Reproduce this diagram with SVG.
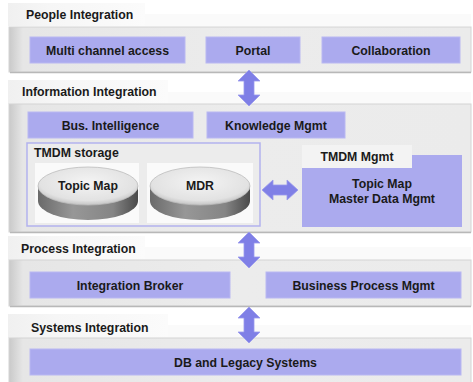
<svg xmlns="http://www.w3.org/2000/svg" width="473" height="382" viewBox="0 0 473 382">
  <defs>
    <linearGradient id="panelGrad" x1="0" y1="0" x2="1" y2="0">
      <stop offset="0" stop-color="#c9c9c9"/>
      <stop offset="0.03" stop-color="#e6e6e6"/>
      <stop offset="0.5" stop-color="#ececec"/>
      <stop offset="1" stop-color="#ebebeb"/>
    </linearGradient>
    <linearGradient id="tabGrad" x1="0" y1="0" x2="1" y2="0">
      <stop offset="0" stop-color="#f0f0f0"/>
      <stop offset="0.3" stop-color="#f6f6f6"/>
      <stop offset="1" stop-color="#fbfbfb"/>
    </linearGradient>
    <linearGradient id="cylSide" x1="0" y1="0" x2="1" y2="0">
      <stop offset="0" stop-color="#6a6a6a"/>
      <stop offset="0.35" stop-color="#979797"/>
      <stop offset="0.75" stop-color="#858585"/>
      <stop offset="1" stop-color="#4a4a4a"/>
    </linearGradient>
    <radialGradient id="cylTop" cx="0.5" cy="0.4" r="0.6">
      <stop offset="0" stop-color="#f4f4f4"/>
      <stop offset="0.8" stop-color="#e2e2e2"/>
      <stop offset="1" stop-color="#c4c4c4"/>
    </radialGradient>
    <path id="vArrow" d="M0,-18 L11,-7 L5,-7 L5,7 L11,7 L0,18 L-11,7 L-5,7 L-5,-7 L-11,-7 Z"/>
    <path id="hArrow" d="M-18,0 L-7,-10 L-7,-5 L7,-5 L7,-10 L18,0 L7,10 L7,5 L-7,5 L-7,10 Z"/>
  </defs>
  <style>
    .panel { fill: url(#panelGrad); stroke: #d4d4d4; stroke-width: 1; }
    .shadow { fill: none; stroke: #b8b8b8; stroke-width: 1.5; }
    .tab { fill: url(#tabGrad); }
    .tabtrail { fill: #fafafa; }
    .box { fill: #abaaee; stroke: #b9b8f2; stroke-width: 1; }
    .label { font-family: "Liberation Sans", Arial, sans-serif; font-weight: bold; font-size: 12.3px; fill: #1a1a1a; }
    .mid { text-anchor: middle; }
    .arrow { fill: #7f7fe6; stroke: #9b9bee; stroke-width: 0.8; }
    .storage { fill: #ececec; stroke: #b3b2ee; stroke-width: 1.5; }
  </style>

  <rect width="473" height="382" fill="#ffffff"/>

  <!-- People Integration layer -->
  <g id="layer-people">
    <rect class="tabtrail" x="145" y="14" width="326" height="12"/>
    <rect class="tab" x="8" y="3" width="137" height="23"/>
    <text class="label" x="26" y="19">People Integration</text>
    <rect class="panel" x="9" y="27" width="462" height="45"/>
    <line class="shadow" x1="10" y1="72.5" x2="471" y2="72.5"/>
  </g>
  <g id="multi-channel">
    <rect class="box" x="30" y="37" width="155" height="26"/>
    <text class="label mid" x="107.5" y="55">Multi channel access</text>
  </g>
  <g id="portal">
    <rect class="box" x="206" y="37" width="94" height="26"/>
    <text class="label mid" x="253" y="55">Portal</text>
  </g>
  <g id="collaboration">
    <rect class="box" x="322" y="37" width="138" height="26"/>
    <text class="label mid" x="391" y="55">Collaboration</text>
  </g>

  <!-- Information Integration layer -->
  <g id="layer-information">
    <rect class="tabtrail" x="168" y="92" width="303" height="12"/>
    <rect class="tab" x="8" y="80" width="160" height="24"/>
    <text class="label" x="22" y="96">Information Integration</text>
    <rect class="panel" x="9" y="104" width="462" height="128"/>
    <line class="shadow" x1="10" y1="232.5" x2="471" y2="232.5"/>
  </g>
  <g id="bus-intelligence">
    <rect class="box" x="28" y="112" width="165" height="26"/>
    <text class="label mid" x="110.5" y="130">Bus. Intelligence</text>
  </g>
  <g id="knowledge-mgmt">
    <rect class="box" x="207" y="112" width="138" height="26"/>
    <text class="label mid" x="276" y="130">Knowledge Mgmt</text>
  </g>

  <!-- TMDM storage with two cylinders -->
  <g id="tmdm-storage">
    <rect class="storage" x="27" y="143" width="233" height="83"/>
    <text class="label" x="34" y="157">TMDM storage</text>
    <rect x="35" y="163" width="104" height="60" fill="#fafafa"/>
    <rect x="147" y="163" width="106" height="60" fill="#fafafa"/>
  </g>
  <g id="topic-map-store">
    <path d="M38,186 L38,201 A50,19 0 0 0 138,201 L138,186 Z" fill="url(#cylSide)"/>
    <ellipse cx="88" cy="186" rx="50" ry="19" fill="url(#cylTop)" stroke="#bdbdbd" stroke-width="0.8"/>
    <text class="label mid" x="88" y="190">Topic Map</text>
  </g>
  <g id="mdr-store">
    <path d="M150,186 L150,201 A50,19 0 0 0 250,201 L250,186 Z" fill="url(#cylSide)"/>
    <ellipse cx="200" cy="186" rx="50" ry="19" fill="url(#cylTop)" stroke="#bdbdbd" stroke-width="0.8"/>
    <text class="label mid" x="200" y="190">MDR</text>
  </g>

  <!-- TMDM management -->
  <g id="tmdm-mgmt">
    <rect x="302" y="155" width="160" height="72" fill="#abaaee"/>
    <rect x="302" y="145" width="110" height="23" fill="#f3f3f3"/>
    <text class="label mid" x="357" y="161">TMDM Mgmt</text>
    <text class="label mid" x="382" y="188">Topic Map</text>
    <text class="label mid" x="382" y="203">Master Data Mgmt</text>
  </g>

  <!-- Process Integration layer -->
  <g id="layer-process">
    <rect class="tabtrail" x="145" y="247" width="326" height="13"/>
    <rect class="tab" x="8" y="236" width="137" height="24"/>
    <text class="label" x="21" y="253">Process Integration</text>
    <rect class="panel" x="9" y="260" width="462" height="46"/>
    <line class="shadow" x1="10" y1="306.5" x2="471" y2="306.5"/>
  </g>
  <g id="integration-broker">
    <rect class="box" x="30" y="272" width="200" height="26"/>
    <text class="label mid" x="130" y="290">Integration Broker</text>
  </g>
  <g id="business-process-mgmt">
    <rect class="box" x="266" y="272" width="195" height="26"/>
    <text class="label mid" x="363.5" y="290">Business Process Mgmt</text>
  </g>

  <!-- Systems Integration layer -->
  <g id="layer-systems">
    <rect class="tabtrail" x="168" y="325" width="303" height="13"/>
    <rect class="tab" x="8" y="314" width="160" height="24"/>
    <text class="label" x="31" y="332">Systems Integration</text>
    <rect class="panel" x="9" y="338" width="462" height="46"/>
  </g>
  <g id="db-legacy">
    <rect class="box" x="30" y="349" width="431" height="26"/>
    <text class="label mid" x="245.5" y="367">DB and Legacy Systems</text>
  </g>

  <!-- Connectors between layers -->
  <g id="connectors">
    <use href="#vArrow" class="arrow" transform="translate(249,88)"/>
    <use href="#vArrow" class="arrow" transform="translate(249,250)"/>
    <use href="#vArrow" class="arrow" transform="translate(249,325)"/>
    <use href="#hArrow" class="arrow" transform="translate(280,190)"/>
  </g>
</svg>
